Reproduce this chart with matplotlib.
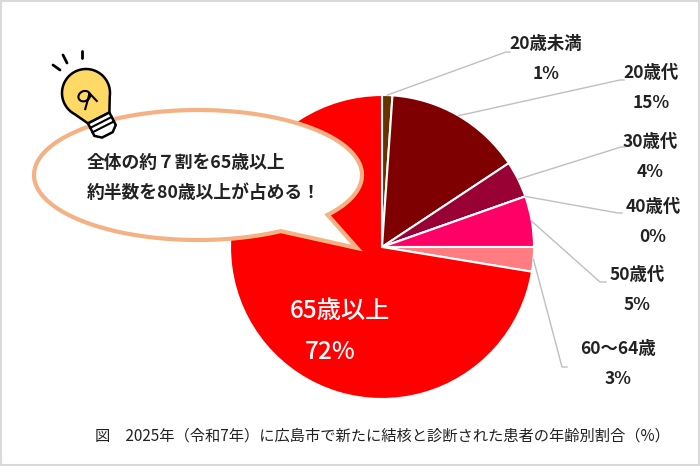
import numpy as np
import matplotlib
matplotlib.use('Agg')
import matplotlib.pyplot as plt
from matplotlib.patches import Polygon, Rectangle

plt.rcParams['font.family'] = ['Noto Sans CJK JP', 'DejaVu Sans']

# data
ages = ['20歳未満', '20歳代', '30歳代', '40歳代', '50歳代', '60～64歳', '65歳以上']
shares = [1.1, 14.6, 3.9, 0.0, 5.4, 2.6, 72.4]
pct_labels = ['1%', '15%', '4%', '0%', '5%', '3%', '72%']
colors = ['#663300', '#7F0000', '#990033', '#CC0066', '#FF0066', '#FF7C80', '#FF0000']

W, H = 700, 466
fig = plt.figure(figsize=(7, 4.66), dpi=100)

# pie axes (center ~ (382,247) px, radius ~152 px)
cx, cy, r = 382, 247, 152
ax = fig.add_axes([(cx - r) / W, (H - cy - r) / H, 2 * r / W, 2 * r / H])
wedges, _ = ax.pie(shares, colors=colors, startangle=90, counterclock=False,
                   radius=1, wedgeprops=dict(edgecolor='white', linewidth=1.5))
ax.set_xlim(-1, 1)
ax.set_ylim(-1, 1)
ax.apply_aspect()

# overlay axes in pixel coordinates
ov = fig.add_axes([0, 0, 1, 1], zorder=5)
ov.set_xlim(0, W)
ov.set_ylim(H, 0)
ov.axis('off')

# border
ov.add_patch(Rectangle((1, 1), W - 2, H - 2, fill=False, edgecolor='#D9D9D9', lw=1.5))

# leader lines and outside labels
elbows = [(506, 52), (620, 80), (621, 147), (618, 213), (600, 282), (562, 367)]
ends = [510, 624, 625, 622, 606, 567]
label_pos = [(546, 59), (651, 88), (650, 157), (653, 222), (637, 290), (618, 364)]
for i in range(6):
    w = wedges[i]
    mid = np.deg2rad((w.theta1 + w.theta2) / 2)
    p = ax.transData.transform((np.cos(mid), np.sin(mid)))
    sx, sy = ov.transData.inverted().transform(p)
    ex, ey = elbows[i]
    ov.plot([sx, ex, ends[i]], [sy, ey, ey], color='#BFBFBF', lw=1)
    ov.text(label_pos[i][0], label_pos[i][1], ages[i] + '\n' + pct_labels[i],
            ha='center', va='center', multialignment='center',
            fontsize=12.5, fontweight='bold', color='#222222', linespacing=1.85)

# inside label
ov.text(340, 311, ages[6], ha='center', va='center', fontsize=17.5,
        fontweight='medium', color='white')
ov.text(330, 352, pct_labels[6], ha='center', va='center', fontsize=17.5,
        fontweight='medium', color='white')

# speech bubble
ecx, ecy, ea, eb = 198, 175, 164, 65
t = np.deg2rad(np.linspace(59.7, 37.8 + 360, 200))
bx = ecx + ea * np.cos(t)
by = ecy + eb * np.sin(t)
pts = np.column_stack([np.r_[bx, 357], np.r_[by, 248]])
ov.add_patch(Polygon(pts, closed=True, facecolor='white', edgecolor='#F4B183',
                     lw=3, joinstyle='miter', zorder=3))
ov.text(87, 163, '全体の約７割を65歳以上', ha='left', va='center',
        fontsize=12.8, fontweight='bold', color='#222222', zorder=4)
ov.text(87, 193, '約半数を80歳以上が占める！', ha='left', va='center',
        fontsize=12.8, fontweight='bold', color='#222222', zorder=4)

# light bulb
gx, gy = 86, 93
ang = np.deg2rad(27)

def tr(local):
    local = np.asarray(local, float)
    Rm = np.array([[np.cos(-ang), -np.sin(-ang)], [np.sin(-ang), np.cos(-ang)]])
    return local @ Rm.T + np.array([gx, gy])

tt = np.deg2rad(np.linspace(-215, 35, 80))
globe = np.column_stack([24 * np.cos(tt), 24 * np.sin(tt)])
neck = np.array([[12, 28], [-12, 28]])
bulb = np.vstack([globe, neck])
ov.add_patch(Polygon(tr(bulb), closed=True, facecolor='#FFD966', edgecolor='black',
                     lw=1.8, zorder=6))
base = np.array([[-12, 28], [12, 28], [12, 42], [6, 47], [-6, 47], [-12, 42]])
ov.add_patch(Polygon(tr(base), closed=True, facecolor='white', edgecolor='black',
                     lw=1.8, zorder=6))
for yy in (33, 38):
    seg = tr([[-12, yy], [12, yy]])
    ov.plot(seg[:, 0], seg[:, 1], color='black', lw=1.5, zorder=7)
# filament
ft = np.linspace(0, 2 * np.pi, 60)
fil = np.column_stack([-3 + 6 * np.cos(ft), 2 + 5 * np.sin(ft)])
fil = np.vstack([[[-8, 14]], fil, [[6, 12]]])
fp = tr(fil)
ov.plot(fp[:, 0], fp[:, 1], color='black', lw=1.5, zorder=7)
# rays
for (x1, y1, x2, y2) in [(53, 65, 60, 70), (63, 55, 67, 63), (82, 51, 82, 58)]:
    ov.plot([x1, x2], [y1, y2], color='black', lw=2, solid_capstyle='round', zorder=7)

# caption
ov.text(382, 436, '図　2025年（令和7年）に広島市で新たに結核と診断された患者の年齢別割合（%）',
        ha='center', va='center', fontsize=11, color='#222222')

fig.savefig('out.png', dpi=100)
